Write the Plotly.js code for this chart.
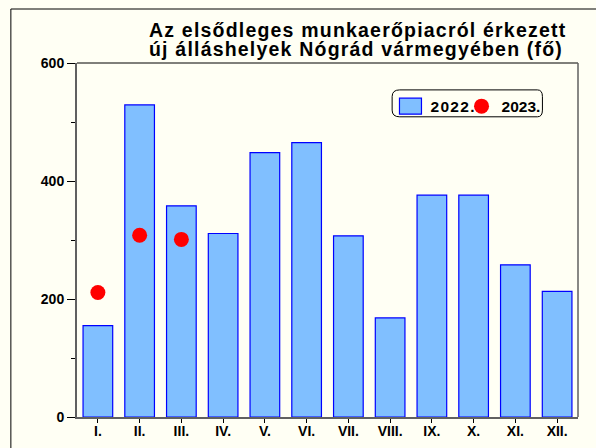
<!DOCTYPE html>
<html>
<head>
<meta charset="utf-8">
<script src="https://cdn.plot.ly/plotly-3.0.1.min.js"></script>
<style>
html,body{margin:0;padding:0;background:#FFFFF4;}
#chart{width:596px;height:448px;}
.annotation-text{letter-spacing:1.2px;}
.legendtext{letter-spacing:1.3px;}
.legend .legendpoints path.legendundefined, .legend .legendbar path{vector-effect:non-scaling-stroke;}
</style>
</head>
<body>
<div id="chart"></div>
<script>
const months = ["I.", "II.", "III.", "IV.", "V.", "VI.", "VII.", "VIII.", "IX.", "X.", "XI.", "XII."];
const values2022 = [155, 529, 358, 311, 448, 465, 307, 168, 376, 376, 258, 213];
const values2023 = [211, 308, 301, null, null, null, null, null, null, null, null, null];
const seriesNames = ["2022.", "2023."];
const titleLines = ["Az elsődleges munkaerőpiacról érkezett", "új álláshelyek Nógrád vármegyében (fő)"];

const FONT = "Liberation Sans, Arial, sans-serif";
const BG = "#FFFFF4";

const traces = [
  {
    type: "bar", x: months, y: values2022, name: seriesNames[0], legend: "legend",
    marker: {color: "#80BFFF", line: {color: "#0000FF", width: 1.2}},
    hoverinfo: "x+y"
  },
  {
    type: "scatter", mode: "markers", x: months, y: values2023, name: seriesNames[1], legend: "legend2",
    marker: {color: "#FF0000", size: 15, line: {width: 0}},
    hoverinfo: "x+y"
  }
];

const titleY = [1.0932, 1.0395];
const legendFont = {family: FONT, size: 15.5, color: "#000", weight: "bold"};

const layout = {
  width: 596, height: 448,
  paper_bgcolor: BG, plot_bgcolor: BG,
  margin: {l: 77, r: 18, t: 63, b: 31, pad: 0},
  font: {family: FONT, color: "#000", size: 14},
  bargap: 0.29,
  showlegend: true,
  legend: {
    orientation: "h", x: 0.6257, xanchor: "left", y: 0.925, yanchor: "top",
    bgcolor: "rgba(0,0,0,0)", borderwidth: 0, font: legendFont, itemwidth: 30
  },
  legend2: {
    orientation: "h", x: 0.7675, xanchor: "left", y: 0.925, yanchor: "top",
    bgcolor: "rgba(0,0,0,0)", borderwidth: 0, font: legendFont, itemwidth: 30
  },
  xaxis: {
    type: "category", range: [-0.5, 11.5], showgrid: false, zeroline: false,
    showline: true, linecolor: "#606060", linewidth: 2,
    ticks: "outside", ticklen: 4, tickwidth: 1, tickcolor: "#000",
    ticklabelstandoff: -4,
    tickfont: {family: FONT, size: 14, color: "#000", weight: "bold"},
    fixedrange: true
  },
  yaxis: {
    range: [0, 600], dtick: 200, tick0: 0, showgrid: false, zeroline: false,
    showline: true, linecolor: "#606060", linewidth: 2,
    ticks: "outside", ticklen: 8, tickwidth: 1, tickcolor: "#000",
    minor: {dtick: 100, ticks: "outside", ticklen: 4, tickwidth: 1, tickcolor: "#000", showgrid: false},
    tickfont: {family: FONT, size: 14, color: "#000", weight: "bold"},
    fixedrange: true
  },
  annotations: titleLines.map((t, i) => ({
    text: "<b>" + t + "</b>", xref: "paper", yref: "paper",
    x: 0.1397, xanchor: "left", y: titleY[i], yanchor: "middle",
    showarrow: false, font: {family: FONT, size: 19.5, color: "#000"}
  })),
  shapes: [
    {type: "line", xref: "paper", yref: "paper", x0: 0, x1: 1, y0: 1, y1: 1, line: {color: "#000", width: 1}},
    {type: "line", xref: "paper", yref: "paper", x0: 1, x1: 1, y0: 0, y1: 1, line: {color: "#606060", width: 1.5}},
    {type: "path", xref: "paper", yref: "paper",
     path: "M -0.132 -0.2 L -0.132 1.1525 L 1.2 1.1525", line: {color: "#000", width: 1}},
    {type: "path", xref: "paper", yref: "paper",
     path: "M 0.644 0.924 L 0.919 0.924 Q 0.929 0.924 0.929 0.905 L 0.929 0.867 Q 0.929 0.848 0.919 0.848 L 0.644 0.848 Q 0.629 0.848 0.629 0.867 L 0.629 0.905 Q 0.629 0.924 0.644 0.924 Z",
     line: {color: "#000", width: 1}}
  ]
};

Plotly.newPlot("chart", traces, layout, {displayModeBar: false, staticPlot: true}).then(gd => {
  // enlarge the bar legend swatch to match the reference's wide square key
  gd.querySelectorAll(".legend .legendpoints path").forEach(p => {
    const d = p.getAttribute("d");
    if (d && d.indexOf("H-6") >= 0) p.setAttribute("d", "M11,8H-11V-8H11Z");
  });
});
</script>
</body>
</html>
